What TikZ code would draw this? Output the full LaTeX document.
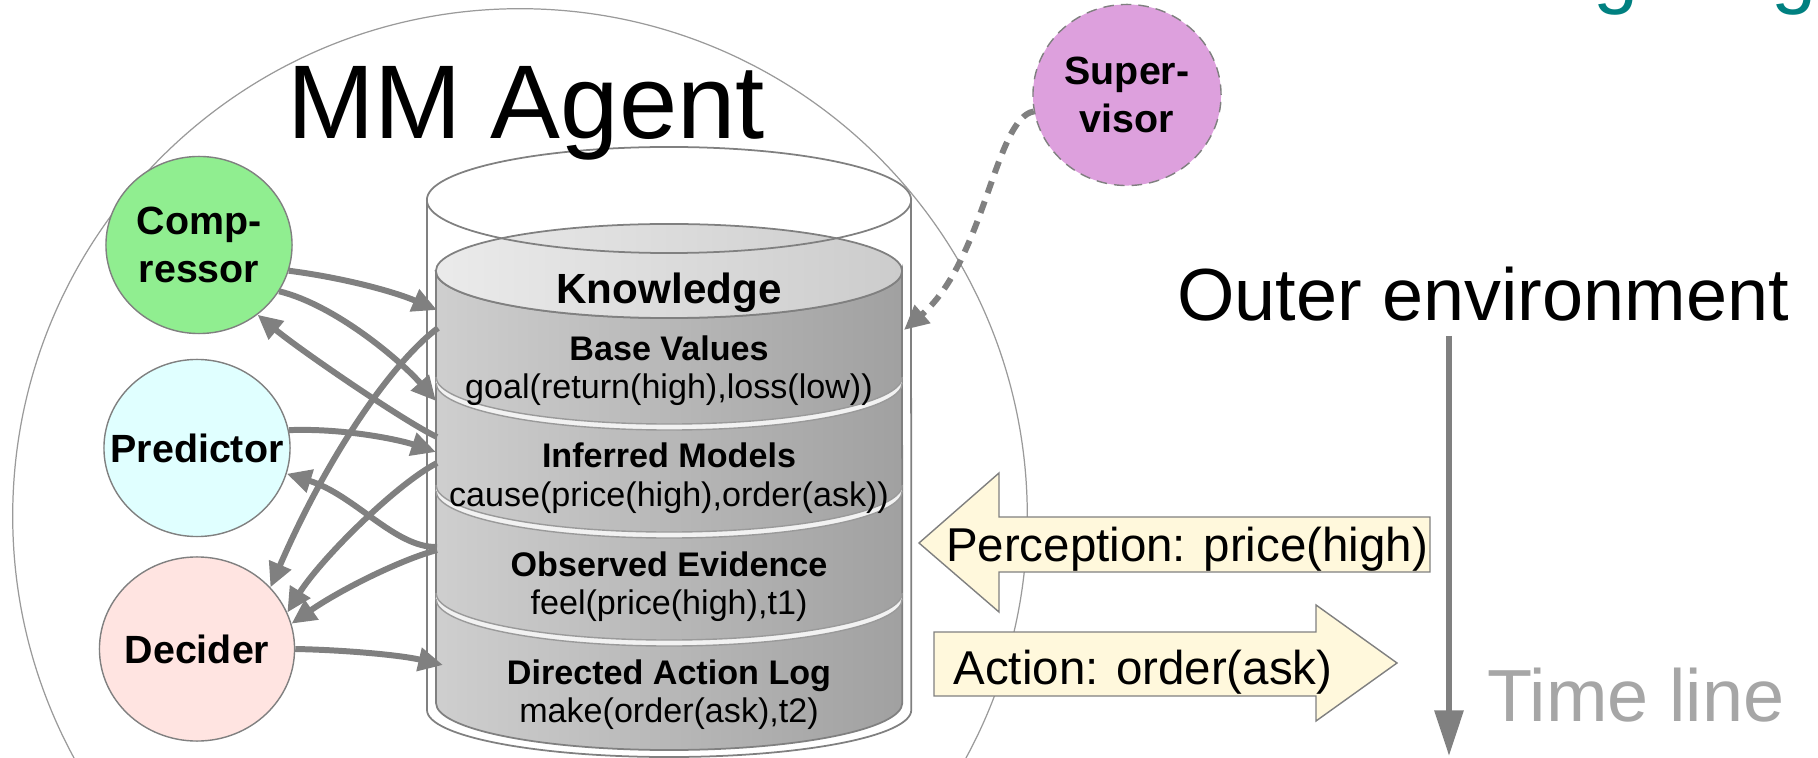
\documentclass[tikz,border=0pt]{standalone}
\usepackage{fontspec}
\setmainfont{Liberation Sans}
\usetikzlibrary{positioning, arrows.meta, shapes.geometric}
\definecolor{compgreen}{HTML}{90EE90}
\definecolor{predcyan}{HTML}{E0FFFF}
\definecolor{decpink}{HTML}{FFE4E1}
\definecolor{supplum}{HTML}{DDA0DD}
\definecolor{arrowfill}{HTML}{FFF8DC}
\definecolor{linegray}{HTML}{808080}
\definecolor{titleteal}{HTML}{008080}

\begin{document}
\begin{tikzpicture}[x=0.01cm, y=-0.01cm]
\tikzstyle{agent}=[ellipse, draw=linegray, line width=0.4pt, minimum width=1.86cm, minimum height=1.77cm, inner sep=0pt, align=center, font=\bfseries\fontsize{11.2}{13.4}\selectfont]
\tikzstyle{connect}=[-{Triangle[length=7pt,width=6.5pt]}, line width=1.7pt, draw=linegray]
\tikzstyle{layerhead}=[anchor=base, inner sep=0pt, font=\bfseries\fontsize{9.7}{11}\selectfont]
\tikzstyle{layerfact}=[anchor=base, inner sep=0pt, font=\fontsize{9.7}{11}\selectfont]
\tikzstyle{bigtext}=[anchor=base, inner sep=0pt, font=\fontsize{21}{25}\selectfont]
\tikzstyle{blockarrow}=[draw=linegray, fill=arrowfill, line width=0.4pt]
\tikzstyle{inrim}=[x radius=2.33cm, y radius=0.47cm]
\useasboundingbox (0,0) rectangle (1818,758);
\clip (0,0) rectangle (1818,758);
% 1. Agent and knowledge store
%%%%%%%%%%
\draw[linegray!80, line width=0.35pt] (520,516) circle [radius=5.07cm];

\shadedraw[left color=gray!38, right color=gray!74, draw=linegray, line width=0.5pt]
  (436,271) -- (436,703) arc[inrim, start angle=180, end angle=360]
  -- (902,271) arc[inrim, start angle=0, end angle=-180] -- cycle;
% layer rims
\fill[gray!10] (436,377) arc[inrim, start angle=180, end angle=360] -- (902,383) arc[inrim, start angle=0, end angle=-180] -- cycle;
\draw[linegray!80] (436,377) arc[inrim, start angle=180, end angle=360];
\draw[linegray!80] (436,383) arc[inrim, start angle=180, end angle=360];
\fill[gray!10] (436,485) arc[inrim, start angle=180, end angle=360] -- (902,491) arc[inrim, start angle=0, end angle=-180] -- cycle;
\draw[linegray!80] (436,485) arc[inrim, start angle=180, end angle=360];
\draw[linegray!80] (436,491) arc[inrim, start angle=180, end angle=360];
\fill[gray!10] (436,593) arc[inrim, start angle=180, end angle=360] -- (902,599) arc[inrim, start angle=0, end angle=-180] -- cycle;
\draw[linegray!80] (436,593) arc[inrim, start angle=180, end angle=360];
\draw[linegray!80] (436,599) arc[inrim, start angle=180, end angle=360];
\shadedraw[left color=gray!16, right color=gray!40, draw=linegray, line width=0.5pt] (669,271) ellipse [inrim];

% outer store
\draw[linegray, line width=0.5pt] (669,200) ellipse [x radius=2.42cm, y radius=0.53cm];
\draw[linegray, line width=0.5pt] (427,200) -- (427,710) arc[x radius=2.42cm, y radius=0.47cm, start angle=180, end angle=360] -- (911,200);

% perception and action
\draw[blockarrow] (1430,517) -- (999,517) -- (999,473) -- (919,543) -- (999,612) -- (999,572) -- (1430,572) -- cycle;
\draw[blockarrow] (934,632) -- (1316,632) -- (1316,605) -- (1397,663) -- (1316,721) -- (1316,696) -- (934,696) -- cycle;

% 2. Nodes
%%%%%%%%%%
\node[agent, fill=compgreen] (comp) at (199,245) {\makebox[0pt]{Comp-}\\\makebox[0pt]{ressor}};
\node[agent, fill=predcyan] (pred) at (197,448) {\makebox[0pt]{Predictor}};
\node[agent, fill=decpink, minimum width=1.95cm, minimum height=1.84cm] (dec) at (197,649) {\makebox[0pt]{Decider}};
\node[agent, fill=supplum, densely dashed, minimum width=1.88cm, minimum height=1.81cm] (sup) at (1127,95) {\makebox[0pt]{Super-}\\\makebox[0pt]{visor}};

\node[anchor=base, inner sep=0pt, font=\fontsize{29.8}{34}\selectfont] (title) at (526,139) {MM Agent};
\node[layerhead, font=\bfseries\fontsize{12}{14}\selectfont] (know) at (669,304) {Knowledge};
\node[layerhead] (basev) at (669,361) {Base Values};
\node[layerfact] (basef) at (669,399) {goal(return(high),loss(low))};
\node[layerhead] (infm) at (669,468) {Inferred Models};
\node[layerfact] (inff) at (669,507) {cause(price(high),order(ask))};
\node[layerhead] (obse) at (669,576) {Observed Evidence};
\node[layerfact] (obsf) at (669,614) {feel(price(high),t1)};
\node[layerhead] (dact) at (669,684) {Directed Action Log};
\node[layerfact] (dacf) at (669,722) {make(order(ask),t2)};

\node[anchor=base, inner sep=0pt, font=\fontsize{13.5}{16}\selectfont] (perc) at (1187,561) {Perception: price(high)};
\node[anchor=base, inner sep=0pt, font=\fontsize{13.5}{16}\selectfont] (act) at (1143,684) {Action: order(ask)};
\node[bigtext] (outer) at (1483,321) {Outer environment};
\node[bigtext, text=gray!70] (tline) at (1636,721) {Time line};
\node[anchor=base, inner sep=0pt, text=titleteal, font=\fontsize{23}{27}\selectfont] (gfirst) at (1616,-1) {g};
\node[anchor=base, inner sep=0pt, text=titleteal, font=\fontsize{23}{27}\selectfont] (gsecond) at (1794,-1) {g};

\coordinate (kin1) at (437,310);
\coordinate (kin2) at (436,401);
\coordinate (kout1) at (437,437);
\coordinate (kout2) at (438,328);
\coordinate (kin3) at (436,452);
\coordinate (kout3) at (437,463);
\coordinate (kout4) at (437,547);
\coordinate (kout5) at (437,550);
\coordinate (kin4) at (443,665);
\coordinate (kin5) at (904,330);
\coordinate (tltop) at (1449,336);
\coordinate (tlend) at (1449,756);
% 3. Arrows
%%%%%%%%%%%
\draw[connect] (comp.-16) .. controls (345,278) and (395,292) .. (kin1);
\draw[connect] (comp.-30) .. controls (335,305) and (400,360) .. (kin2);
\draw[connect] (kout1) .. controls (405,422) and (300,350) .. (comp.-50);
\draw[connect] (kout2) .. controls (395,360) and (330,450) .. (dec.40);
\draw[connect] (pred.11) .. controls (345,428) and (400,440) .. (kin3);
\draw[connect] (kout3) .. controls (395,485) and (320,560) .. (dec.22);
\draw[connect] (kout4) .. controls (395,548) and (355,495) .. (pred.-16);
\draw[connect] (kout5) .. controls (400,560) and (340,590) .. (dec.15);
\draw[connect] (dec.0) .. controls (345,650) and (400,655) .. (kin4);
\draw[connect, dash pattern=on 3.5pt off 2.5pt] (sup.190) .. controls (995,118) and (985,260) .. (kin5);
\draw[-{Triangle[length=13pt,width=8pt]}, line width=1.7pt, linegray] (tltop) -- (tlend);

\end{tikzpicture}
\end{document}
